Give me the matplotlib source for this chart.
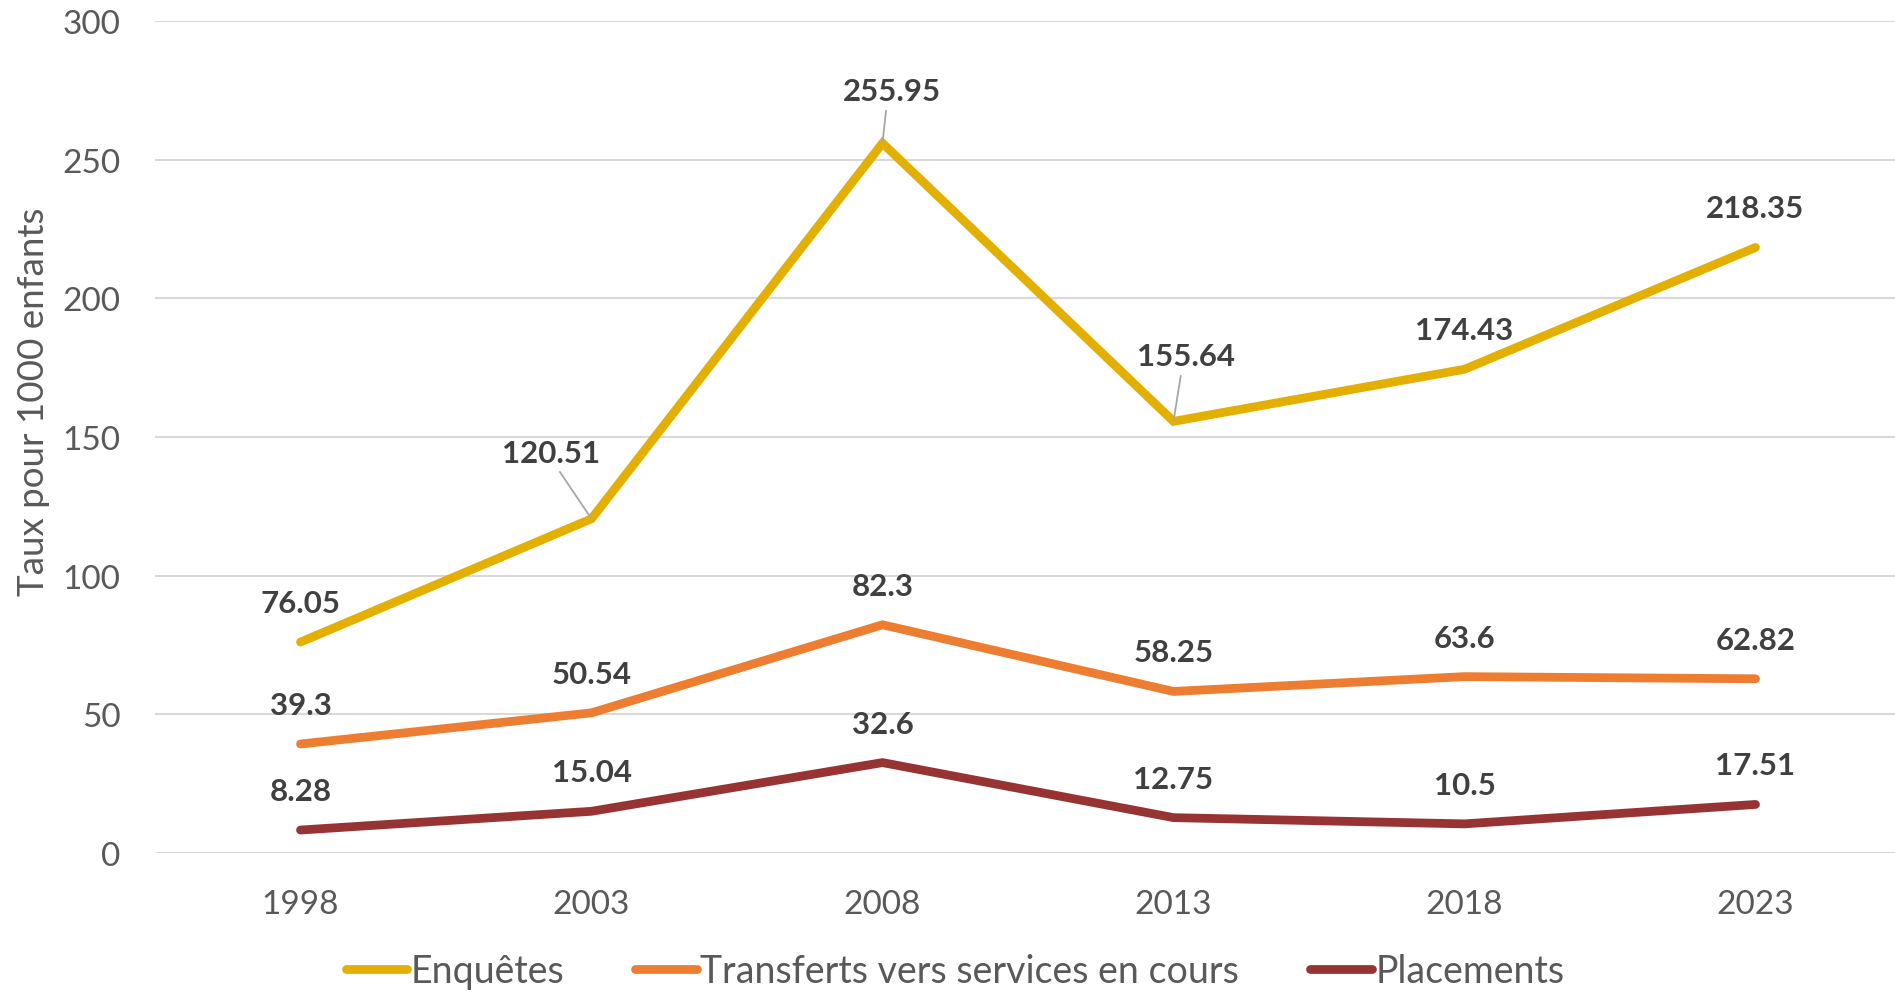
import matplotlib
matplotlib.use("Agg")
import matplotlib.pyplot as plt

years = ["1998", "2003", "2008", "2013", "2018", "2023"]
enquetes = [76.05, 120.51, 255.95, 155.64, 174.43, 218.35]
transferts = [39.3, 50.54, 82.3, 58.25, 63.6, 62.82]
placements = [8.28, 15.04, 32.6, 12.75, 10.5, 17.51]
series_names = ["Enquêtes", "Transferts vers services en cours", "Placements"]
colors = ["#E3AF00", "#ED7D31", "#973332"]

plt.rcParams['font.family'] = ['Lato', 'DejaVu Sans']

W, H = 1895, 995
fig = plt.figure(figsize=(W / 100, H / 100), dpi=100)
left, right, top, bottom = 155, 1901, 22, 854
ax = fig.add_axes([left / W, 1 - bottom / H, (right - left) / W, (bottom - top) / H])

x = list(range(len(years)))
all_series = [enquetes, transferts, placements]
for vals, name, c in zip(all_series, series_names, colors):
    ax.plot(x, vals, color=c, lw=6.3, solid_capstyle='round', solid_joinstyle='miter', label=name, zorder=3)

# label offsets in pixels (dx, dy) and leader-line anchor
default_off = (0, 39)
special = {
    (0, 1): ((-40, 66), (0.55, 0.0)),
    (0, 2): ((9, 52), (0.45, 0.0)),
    (0, 3): ((13, 65), (0.45, 0.0)),
}
for si, vals in enumerate(all_series):
    for i, v in enumerate(vals):
        txt = f"{v:g}"
        if (si, i) in special:
            off, rp = special[(si, i)]
            ax.annotate(txt, xy=(i, v), xytext=off, textcoords='offset pixels',
                        ha='center', va='center', fontsize=22.5, fontweight='bold', color='#404040',
                        arrowprops=dict(arrowstyle='-', color='#A6A6A6', lw=1.3, shrinkA=2, shrinkB=1,
                                        relpos=rp), zorder=4)
        else:
            ax.annotate(txt, xy=(i, v), xytext=default_off, textcoords='offset pixels',
                        ha='center', va='center', fontsize=22.5, fontweight='bold', color='#404040', zorder=4)

ax.set_xlim(-0.5, len(years) - 0.5)
ax.set_ylim(0, 300)
ax.set_yticks(range(0, 301, 50))
ax.set_xticks(x)
ax.set_xticklabels(years)
ax.grid(axis='y', color='#D9D9D9', lw=1.5, zorder=0)
ax.set_axisbelow(True)
for s in ax.spines.values():
    s.set_visible(False)
ax.tick_params(axis='both', length=0, labelsize=24, labelcolor='#595959')
ax.tick_params(axis='x', pad=26)
ax.tick_params(axis='y', pad=25)

fig.text(34 / W, 1 - 402 / H, "Taux pour 1000 enfants", rotation=90, ha='center', va='center',
         fontsize=26.5, color='#595959')

leg = fig.legend(loc='center', bbox_to_anchor=(955 / W, 1 - 972 / H), ncol=3, frameon=False,
                 fontsize=27, handlelength=1.65, handletextpad=0.08, columnspacing=1.9)
for t in leg.get_texts():
    t.set_color('#595959')

fig.savefig("out.png", dpi=100)
